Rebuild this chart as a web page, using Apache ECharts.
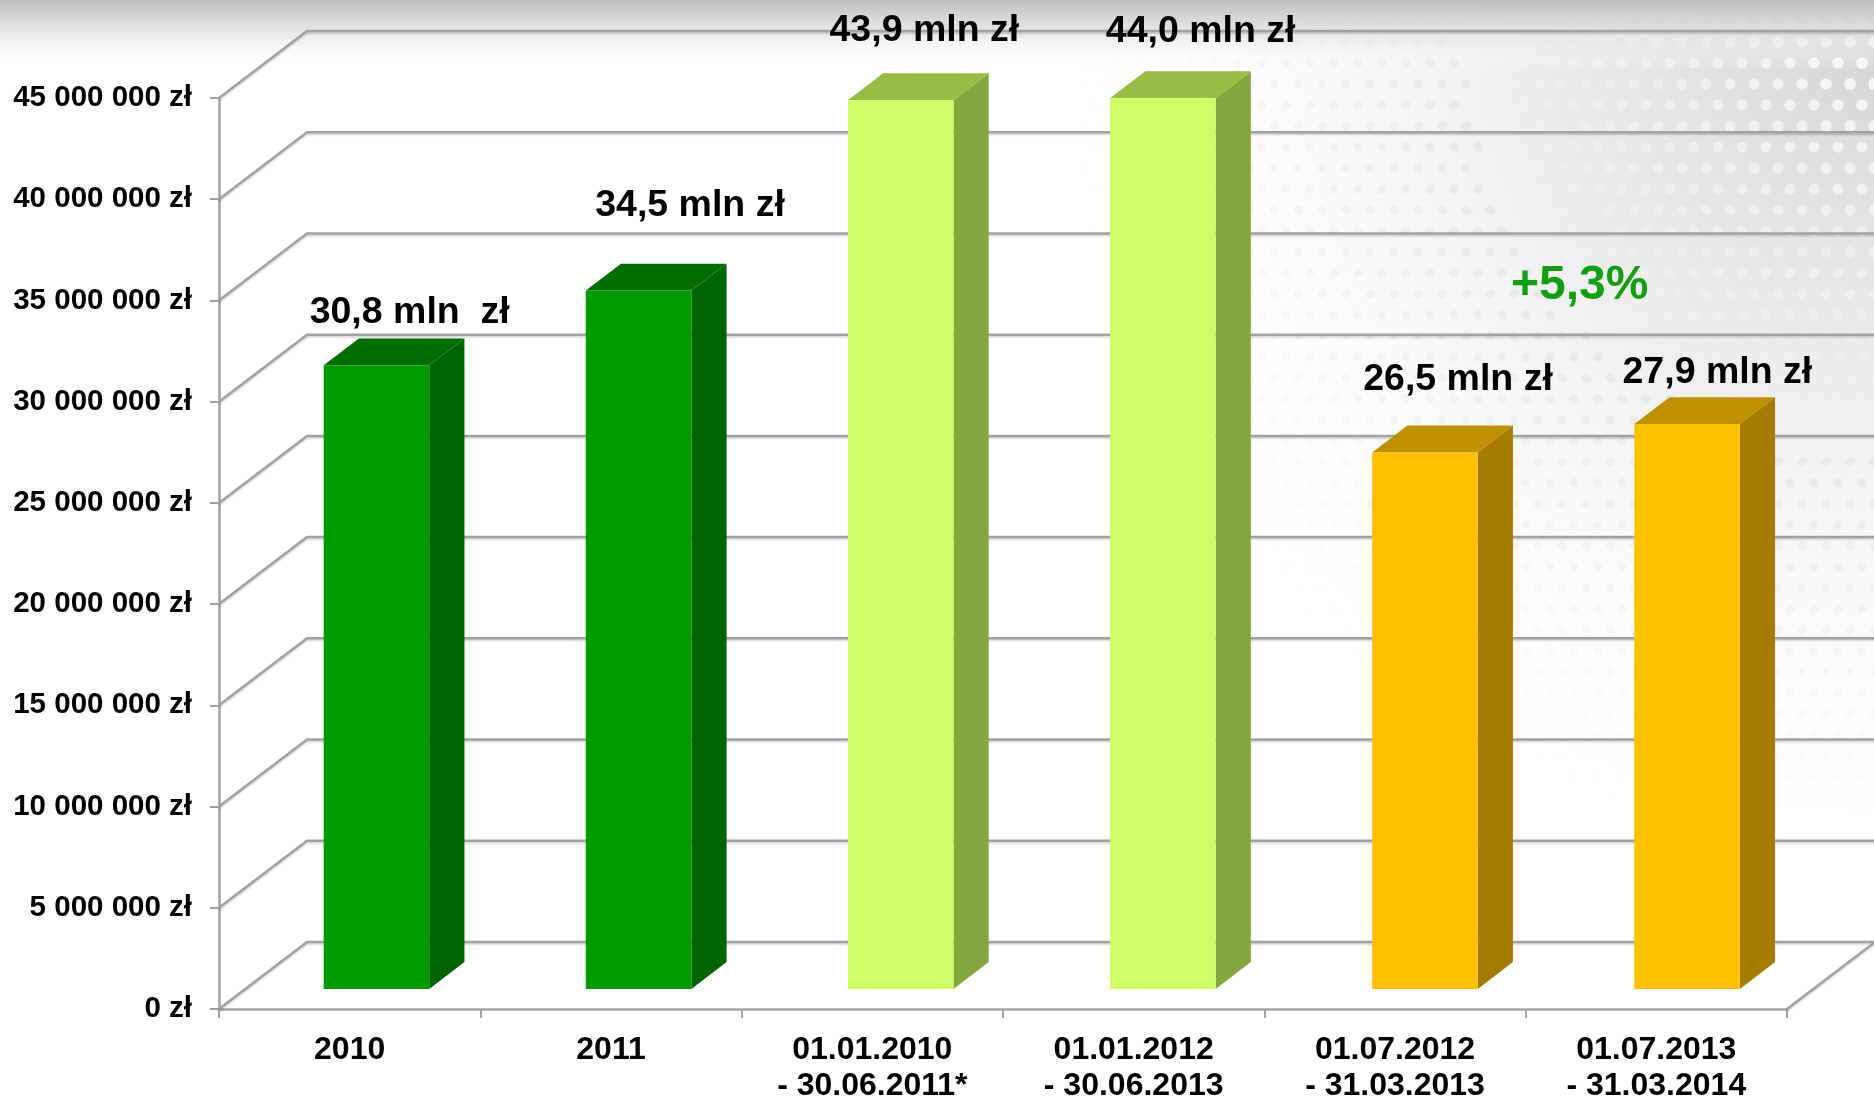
<!DOCTYPE html>
<html>
<head>
<meta charset="utf-8">
<script src="https://cdn.jsdelivr.net/npm/echarts@6/dist/echarts.min.js"></script>
<style>
html,body{margin:0;padding:0;background:#fff;}
#chart{width:1874px;height:1097px;}
</style>
</head>
<body>
<div id="chart"></div>
<script>
// ---------- data ----------
const categories = ['2010', '2011', '01.01.2010\n- 30.06.2011*', '01.01.2012\n- 30.06.2013', '01.07.2012\n- 31.03.2013', '01.07.2013\n- 31.03.2014'];
const values = [30800000, 34500000, 43900000, 44000000, 26500000, 27900000];
const valueLabels = ['30,8 mln  zł', '34,5 mln zł', '43,9 mln zł', '44,0 mln zł', '26,5 mln zł', '27,9 mln zł'];
const yTicks = [0, 5000000, 10000000, 15000000, 20000000, 25000000, 30000000, 35000000, 40000000, 45000000];
const yTickLabels = ['0 zł', '5 000 000 zł', '10 000 000 zł', '15 000 000 zł', '20 000 000 zł', '25 000 000 zł', '30 000 000 zł', '35 000 000 zł', '40 000 000 zł', '45 000 000 zł'];
const changeNote = '+5,3%';

// ---------- styles / layout ----------
const FONT = "'Liberation Sans', Arial, sans-serif";
const barStyles = [
  { front: '#009900', top: '#006f00', side: '#006400' },
  { front: '#009900', top: '#006f00', side: '#006400' },
  { front: '#ccff66', top: '#96bd45', side: '#84a63f' },
  { front: '#ccff66', top: '#96bd45', side: '#84a63f' },
  { front: '#ffc000', top: '#bf9000', side: '#a67c00' },
  { front: '#ffc000', top: '#bf9000', side: '#a67c00' }
];
const labelNudge = [[60, -73], [79, -105], [52, -90], [67, -87], [63, -93], [61, -72]];
const WALL_X = 88, WALL_Y = -67;      // depth of the 3D box
const D_FRONT = 0.30, D_BACK = 0.70;  // bar depth inside the box
const BAR_W = 0.404;                  // bar width as share of band
const PERSP = 0.18;
const LINE = '#a2a2a2';

// ---------- background ----------
function makeBackground(W, H) {
  const c = document.createElement('canvas');
  c.width = W; c.height = H;
  const g = c.getContext('2d');
  g.fillStyle = '#ffffff'; g.fillRect(0, 0, W, H);
  const cx = W, cy = 40, R = 820;
  const rg = g.createRadialGradient(cx, cy, 0, cx, cy, R);
  rg.addColorStop(0, 'rgba(205,205,205,0.85)');
  rg.addColorStop(0.45, 'rgba(225,225,225,0.55)');
  rg.addColorStop(1, 'rgba(255,255,255,0)');
  g.fillStyle = rg; g.fillRect(0, 0, W, H);
  const sp = 24, rowH = 21;
  for (let r = 0; r * rowH < 800; r++) {
    const yy = r * rowH;
    for (let k = 0; k * sp < 900; k++) {
      const xx = W - k * sp - (r % 2 ? sp / 2 : 0);
      const d = Math.hypot(xx - cx, yy - cy) / R;
      if (d >= 1) continue;
      g.beginPath();
      g.arc(xx, yy, 6 * (1 - d * 0.4), 0, Math.PI * 2);
      if (d < 0.5) g.fillStyle = 'rgba(255,255,255,' + (0.85 * (1 - d / 0.5)).toFixed(3) + ')';
      else g.fillStyle = 'rgba(215,215,215,' + (0.7 * (1 - d)).toFixed(3) + ')';
      g.fill();
    }
  }
  const lg = g.createLinearGradient(0, 0, 0, 70);
  lg.addColorStop(0, 'rgba(190,190,190,1)');
  lg.addColorStop(0.45, 'rgba(225,225,225,0.8)');
  lg.addColorStop(1, 'rgba(255,255,255,0)');
  g.fillStyle = lg; g.fillRect(0, 0, W, 70);
  return c;
}

const chart = echarts.init(document.getElementById('chart'), null, { renderer: 'canvas' });
const W = 1874, H = 1097;

const option = {
  animation: false,
  backgroundColor: '#ffffff',
  textStyle: { fontFamily: FONT },
  graphic: [
    { type: 'image', z: -100, silent: true, style: { image: makeBackground(W, H), x: 0, y: 0, width: W, height: H } },
    { type: 'text', z: 100, left: 1581 - 70, top: 283 - 21, style: { text: changeNote, fill: '#119e11', font: 'bold 48px ' + FONT, width: 140, align: 'left' } }
  ],
  grid: { left: 219, right: 87, top: 98, bottom: 88, containLabel: false, outerBoundsMode: 'none' },
  xAxis: {
    type: 'category',
    data: categories,
    boundaryGap: true,
    axisLine: { show: true, lineStyle: { color: LINE, width: 2.5 } },
    axisTick: { show: true, length: 9, lineStyle: { color: LINE, width: 2 } },
    axisLabel: { interval: 0, margin: 23, color: '#000', fontSize: 32, fontWeight: 'bold', lineHeight: 36, fontFamily: FONT },
    splitLine: { show: false }
  },
  yAxis: {
    type: 'value',
    min: 0, max: 45000000, interval: 5000000,
    axisLine: { show: true, lineStyle: { color: LINE, width: 2.5 } },
    axisTick: { show: true, length: 9, lineStyle: { color: LINE, width: 2 } },
    axisLabel: {
      margin: 27, color: '#000', fontSize: 29.5, fontWeight: 'bold', fontFamily: FONT,
      formatter: function (v) { const i = yTicks.indexOf(v); return i >= 0 ? yTickLabels[i] : ''; }
    },
    splitLine: { show: false }
  },
  series: [
    {
      type: 'custom',
      name: 'walls',
      z: 1,
      silent: true,
      data: yTicks.map(function (v) { return [0, v]; }),
      encode: { x: 0, y: 1 },
      clip: false,
      renderItem: function (params, api) {
        const cs = params.coordSys;
        const y = api.coord([0, api.value(1)])[1];
        const fullW = api.getWidth();
        const children = [{
          type: 'polyline',
          shape: { points: [[cs.x, y], [cs.x + WALL_X, y + WALL_Y], [fullW + 5, y + WALL_Y]] },
          style: { stroke: LINE, lineWidth: 2.5, fill: null, shadowColor: 'rgba(0,0,0,0.18)', shadowBlur: 2, shadowOffsetY: 1.5 }
        }];
        if (params.dataIndex === 0) {
          const rx = cs.x + cs.width;
          children.push({
            type: 'line',
            shape: { x1: rx, y1: y, x2: rx + WALL_X, y2: y + WALL_Y },
            style: { stroke: LINE, lineWidth: 2.5, shadowColor: 'rgba(0,0,0,0.18)', shadowBlur: 2, shadowOffsetY: 1.5 }
          });
        }
        return { type: 'group', children: children };
      }
    },
    {
      type: 'custom',
      name: 'bars',
      z: 5,
      clip: false,
      data: values.map(function (v, i) { return [i, v]; }),
      encode: { x: 0, y: 1 },
      renderItem: function (params, api) {
        const cs = params.coordSys;
        const i = api.value(0);
        const v = api.value(1);
        const base = api.coord([i, 0]);
        const top = api.coord([i, v]);
        const band = api.size([1, 0])[0];
        const w = band * BAR_W;
        const persp = 1 + PERSP * (base[0] - cs.x) / cs.width;
        const sx = D_FRONT * WALL_X * persp, sy = D_FRONT * WALL_Y;
        const ox = (D_BACK - D_FRONT) * WALL_X, oy = (D_BACK - D_FRONT) * WALL_Y;
        const fx = base[0] - w / 2 + sx;
        const yb = base[1] + sy, yt = top[1] + sy;
        const st = barStyles[params.dataIndex];
        const nud = labelNudge[params.dataIndex];
        return {
          type: 'group',
          children: [
            { type: 'polygon', shape: { points: [[fx + w, yt], [fx + w + ox, yt + oy], [fx + w + ox, yb + oy], [fx + w, yb]] }, style: { fill: st.side } },
            { type: 'polygon', shape: { points: [[fx, yt], [fx + ox, yt + oy], [fx + w + ox, yt + oy], [fx + w, yt]] }, style: { fill: st.top } },
            { type: 'rect', shape: { x: fx, y: yt, width: w, height: yb - yt }, style: { fill: st.front } },
            { type: 'text', style: { text: valueLabels[params.dataIndex], x: top[0] + nud[0], y: top[1] + nud[1], align: 'center', verticalAlign: 'middle', fill: '#000', font: 'bold 37.5px ' + FONT } }
          ]
        };
      }
    }
  ]
};
chart.setOption(option);
</script>
</body>
</html>
